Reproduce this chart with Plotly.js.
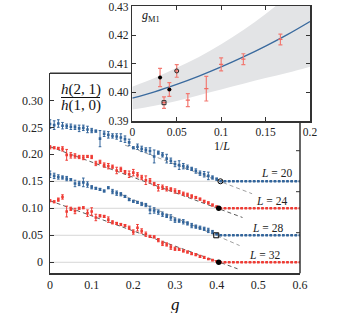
<!DOCTYPE html>
<html>
<head>
<meta charset="utf-8">
<script src="https://cdn.plot.ly/plotly-3.0.1.min.js"></script>
<style>html,body{margin:0;padding:0;background:#fff;}#chart{width:338px;height:313px;}</style>
</head>
<body>
<div id="chart"></div>
<script>
// ---------- main panel data ----------
const g = [0,0.01,0.02,0.03,0.04,0.05,0.06,0.07,0.08,0.09,
  0.10,0.11,0.12,0.13,0.14,0.15,0.16,0.17,0.18,0.19,
  0.20,0.21,0.22,0.23,0.24,0.25,0.26,0.27,0.28,0.29,
  0.30,0.31,0.32,0.33,0.34,0.35,0.36,0.37,0.38,0.39,
  0.40,0.41,0.42,0.43,0.44,0.45,0.46,0.47,0.48,0.49,
  0.50,0.51,0.52,0.53,0.54,0.55,0.56,0.57,0.58,0.59,0.60];

const h20 = [0.256,0.254,0.257,0.253,0.252,0.251,0.250,0.248,0.249,0.246,
  0.244,0.243,0.229,0.238,0.236,0.234,0.233,0.231,0.228,0.222,
  0.212,0.214,0.210,0.208,0.206,0.196,0.203,0.199,0.192,0.188,
  0.182,0.180,0.178,0.176,0.173,0.169,0.165,0.163,0.160,0.157,
  0.154,0.150,0.150,0.150,0.150,0.150,0.150,0.150,0.150,0.150,
  0.150,0.150,0.150,0.150,0.150,0.150,0.150,0.150,0.150,0.150,0.150];
const e20 = [0.008,0.008,0.007,0.006,0.004,0.005,0.004,0.006,0.005,0.006,
  0.004,0.002,0.015,0.005,0.006,0.004,0.005,0.007,0.006,0.006,
  0.002,0.005,0.005,0.004,0.006,0.012,0.003,0.004,0.008,0.005,
  0.005,0.008,0.005,0.004,0.003,0.004,0.004,0.005,0.007,0.003,
  0.002,0,0,0,0,0,0,0,0,0,0,0,0,0,0,0,0,0,0,0,0];

const h24 = [0.213,0.212,0.211,0.210,0.199,0.198,0.197,0.195,0.194,0.196,
  0.195,0.183,0.186,0.180,0.178,0.177,0.170,0.172,0.167,0.163,
  0.166,0.162,0.157,0.152,0.151,0.145,0.138,0.139,0.136,0.135,
  0.132,0.130,0.127,0.125,0.122,0.120,0.117,0.113,0.110,0.106,
  0.103,0.100,0.100,0.100,0.100,0.100,0.100,0.100,0.100,0.100,
  0.100,0.100,0.100,0.100,0.100,0.100,0.100,0.100,0.100,0.100,0.100];
const e24 = [0.003,0.002,0.002,0.004,0.010,0.005,0.004,0.003,0.004,0.002,
  0.003,0.004,0.003,0.004,0.005,0.003,0.006,0.004,0.003,0.006,
  0.006,0.004,0.004,0.008,0.004,0.003,0.006,0.004,0.004,0.003,
  0.004,0.003,0.003,0.003,0.003,0.002,0.002,0.002,0.002,0.002,
  0.001,0,0,0,0,0,0,0,0,0,0,0,0,0,0,0,0,0,0,0,0];

const h28 = [0.163,0.160,0.158,0.157,0.155,0.153,0.146,0.146,0.148,0.144,
  0.139,0.137,0.135,0.132,0.138,0.131,0.128,0.126,0.122,0.116,
  0.113,0.111,0.108,0.106,0.097,0.096,0.093,0.089,0.086,0.083,
  0.078,0.077,0.075,0.072,0.068,0.066,0.064,0.062,0.059,0.056,
  0.052,0.050,0.050,0.050,0.050,0.050,0.050,0.050,0.050,0.050,
  0.050,0.050,0.050,0.050,0.050,0.050,0.050,0.050,0.050,0.050,0.050];
const e28 = [0.006,0.005,0.004,0.003,0.004,0.002,0.006,0.004,0.008,0.005,
  0.003,0.002,0.002,0.002,0.002,0.004,0.004,0.003,0.002,0.002,
  0.002,0.002,0.003,0.003,0.007,0.005,0.004,0.004,0.003,0.005,
  0.004,0.003,0.004,0.003,0.004,0.003,0.003,0.003,0.004,0.003,
  0.001,0,0,0,0,0,0,0,0,0,0,0,0,0,0,0,0,0,0,0,0];

const h32 = [0.114,0.112,0.116,0.121,0.094,0.099,0.095,0.100,0.101,0.091,
  0.094,0.083,0.086,0.085,0.079,0.074,0.072,0.070,0.068,0.064,
  0.056,0.064,0.058,0.052,0.048,0.047,0.041,0.035,0.033,0.028,
  0.025,0.024,0.021,0.019,0.016,0.014,0.011,0.009,0.006,0.004,
  0.002,0,0,0,0,0,0,0,0,0,0,0,0,0,0,0,0,0,0,0,0];
const e32 = [0.002,0.002,0.003,0.004,0.010,0.003,0.005,0.002,0.002,0.006,
  0.007,0.006,0.002,0.002,0.005,0.003,0.002,0.002,0.002,0.003,
  0.004,0.006,0.004,0.004,0.002,0.002,0.003,0.004,0.003,0.004,
  0.003,0.002,0.002,0.002,0.002,0.002,0.002,0.002,0.001,0.001,
  0.001,0,0,0,0,0,0,0,0,0,0,0,0,0,0,0,0,0,0,0,0];

// plateau levels (grey reference lines)
const plateau = [0.15, 0.10, 0.05, 0.0];
// linear-fit dashed lines
const fit20g = [0.18, 0.485], fit20h = [0.217, 0.127];
const fit24g = [0.0, 0.462],  fit24h = [0.214, 0.083];
const fit28g = [0.17, 0.455], fit28h = [0.126, 0.031];
const fit32g = [0.0, 0.45],   fit32h = [0.114, -0.012];
// crossing points g_M1(L)
const crossG = [0.409, 0.405, 0.399, 0.405];
const crossH = [0.15, 0.10, 0.05, 0.0];
const sizeLabels = ['<i>L</i> = 20', '<i>L</i> = 24', '<i>L</i> = 28', '<i>L</i> = 32'];
const labelG = [0.543, 0.532, 0.522, 0.514];
const labelH = [0.1648, 0.1135, 0.063, 0.013];

// ---------- inset data ----------
const invL = [0.03125, 0.0357, 0.0417, 0.05, 0.0625, 0.0833, 0.1, 0.125, 0.1667];
const gM1 = [0.4052, 0.3964, 0.4010, 0.4075, 0.3973, 0.4013, 0.4098, 0.4116, 0.4185];
const gM1err = [0.0032, 0.0020, 0.0024, 0.0022, 0.0023, 0.0043, 0.0023, 0.0019, 0.0019];
const curveX = [0, 0.025, 0.05, 0.075, 0.1, 0.125, 0.15, 0.175, 0.2];
const curveY = [0.3980, 0.4002, 0.4028, 0.4057, 0.4089, 0.4124, 0.4162, 0.4203, 0.4248];
const bandUp = [0.4020, 0.4050, 0.4086, 0.4124, 0.4168, 0.4218, 0.4274, 0.4337, 0.4406];
const bandLo = [0.3940, 0.3953, 0.3970, 0.3990, 0.4010, 0.4030, 0.4050, 0.4069, 0.4090];

const BLUE = '#33659b', RED = '#ef3b34', AX = '#333333';
const FONT = '"Liberation Serif", "DejaVu Serif", serif';

function series(y, e, color) {
  return {x: g, y: y, type: 'scatter', mode: 'markers', xaxis: 'x', yaxis: 'y',
    marker: {symbol: 'square', size: 2.6, color: color, line: {width: 0}},
    error_y: {type: 'data', array: e, visible: true, color: color, thickness: 1, width: 1.3},
    hoverinfo: 'skip'};
}
function dashed(x, y, color) {
  return {x: x, y: y, type: 'scatter', mode: 'lines', xaxis: 'x', yaxis: 'y',
    line: {color: color, width: 1, dash: '4px,3px'}, hoverinfo: 'skip'};
}
const crossSymbols = ['circle-open', 'circle', 'square-open', 'circle'];
const crossSizes = [5, 5.5, 5, 5.5];

const traces = [
  dashed(fit20g, fit20h, '#a0a0a0'),
  dashed(fit24g, fit24h, '#5a5a5a'),
  dashed(fit28g, fit28h, '#a0a0a0'),
  dashed(fit32g, fit32h, '#5a5a5a'),
  series(h20, e20, BLUE),
  series(h24, e24, RED),
  series(h28, e28, BLUE),
  series(h32, e32, RED),
];
for (let i = 0; i < 4; i++) {
  const open = crossSymbols[i].indexOf('open') >= 0;
  traces.push({x: [crossG[i]], y: [crossH[i]], type: 'scatter', mode: 'markers', xaxis: 'x', yaxis: 'y',
    marker: {symbol: crossSymbols[i], size: crossSizes[i], color: '#000',
      line: {color: '#000', width: open ? 1 : 0}}, hoverinfo: 'skip'});
}
// inset
traces.push({x: curveX, y: bandLo, type: 'scatter', mode: 'lines', xaxis: 'x2', yaxis: 'y2',
  line: {width: 0, shape: 'spline', color: 'rgba(0,0,0,0)'}, hoverinfo: 'skip'});
traces.push({x: curveX, y: bandUp, type: 'scatter', mode: 'lines', xaxis: 'x2', yaxis: 'y2',
  fill: 'tonexty', fillcolor: '#e3e4e6',
  line: {width: 0, shape: 'spline', color: 'rgba(0,0,0,0)'}, hoverinfo: 'skip'});
traces.push({x: curveX, y: curveY, type: 'scatter', mode: 'lines', xaxis: 'x2', yaxis: 'y2',
  line: {width: 1.3, shape: 'spline', color: '#3a6a9e'}, hoverinfo: 'skip'});
traces.push({x: invL, y: gM1, type: 'scatter', mode: 'markers', xaxis: 'x2', yaxis: 'y2',
  marker: {symbol: 'line-ew', size: 3, color: '#f06a62', line: {color: '#f06a62', width: 1.2}},
  error_y: {type: 'data', array: gM1err, visible: true, color: '#f27a72', thickness: 1.2, width: 2},
  hoverinfo: 'skip'});
const insetIdx = [3, 2, 1, 0]; // L=20,24,28,32 -> invL index
for (let i = 0; i < 4; i++) {
  const k = insetIdx[i];
  const open = crossSymbols[i].indexOf('open') >= 0;
  traces.push({x: [invL[k]], y: [gM1[k]], type: 'scatter', mode: 'markers', xaxis: 'x2', yaxis: 'y2',
    marker: {symbol: crossSymbols[i], size: 4, color: '#000', line: {color: '#000', width: open ? 0.8 : 0}},
    hoverinfo: 'skip'});
}

const W = 338, H = 313;
const px = v => v / W, py = v => 1 - v / H;

const shapes = [];
for (let i = 0; i < plateau.length; i++) {
  shapes.push({type: 'line', xref: 'x', yref: 'y', x0: 0, x1: 0.6, y0: plateau[i], y1: plateau[i],
    line: {color: '#d6d6d6', width: 1}, layer: 'below'});
}
// partial frame of main panel (top & right, interrupted by inset)
shapes.push({type: 'line', xref: 'paper', yref: 'paper', x0: px(50), x1: px(132), y0: py(73.3), y1: py(73.3),
  line: {color: AX, width: 1.5}});
shapes.push({type: 'line', xref: 'paper', yref: 'paper', x0: px(300), x1: px(300), y0: py(121), y1: py(273.3),
  line: {color: AX, width: 1.5}});
[150.7, 191.7, 232.7].forEach(yy => shapes.push({type: 'line', xref: 'paper', yref: 'paper',
  x0: px(296), x1: px(300), y0: py(yy), y1: py(yy), line: {color: AX, width: 1}}));
// fraction bar
shapes.push({type: 'line', xref: 'paper', yref: 'paper', x0: px(61), x1: px(100), y0: py(97.5), y1: py(97.5),
  line: {color: '#111', width: 1}});

const annotations = [];
for (let i = 0; i < 4; i++) {
  annotations.push({x: labelG[i], y: labelH[i], xref: 'x', yref: 'y', text: sizeLabels[i], showarrow: false,
    xanchor: 'center', yanchor: 'middle', font: {family: FONT, size: 11.5, color: '#222'}});
}
annotations.push({x: px(80.5), y: py(89), xref: 'paper', yref: 'paper', text: '<i>h</i>(2, 1)', showarrow: false,
  xanchor: 'center', yanchor: 'middle', font: {family: FONT, size: 15, color: '#111'}});
annotations.push({x: px(80.5), y: py(106), xref: 'paper', yref: 'paper', text: '<i>h</i>(1, 0)', showarrow: false,
  xanchor: 'center', yanchor: 'middle', font: {family: FONT, size: 15, color: '#111'}});
annotations.push({x: px(175), y: py(304), xref: 'paper', yref: 'paper', text: '<i>g</i>', showarrow: false,
  xanchor: 'center', yanchor: 'middle', font: {family: FONT, size: 17, color: '#111'}});
annotations.push({x: px(221.5), y: py(146), xref: 'paper', yref: 'paper', text: '1/<i>L</i>', showarrow: false,
  xanchor: 'center', yanchor: 'middle', font: {family: FONT, size: 12, color: '#111'}});
annotations.push({x: px(151), y: py(16), xref: 'paper', yref: 'paper', text: '<i>g</i><sub>M1</sub>', showarrow: false,
  xanchor: 'center', yanchor: 'middle', font: {family: FONT, size: 12, color: '#111'}});

const tickFont = {family: FONT, size: 12, color: '#222'};
const insetTickFont = {family: FONT, size: 11.5, color: '#222'};
const layout = {
  width: W, height: H,
  margin: {l: 0, r: 0, t: 0, b: 0},
  paper_bgcolor: '#fff', plot_bgcolor: 'rgba(0,0,0,0)',
  font: {family: FONT},
  showlegend: false,
  xaxis: {domain: [px(50), px(300)], range: [0, 0.6], tickvals: [0,0.1,0.2,0.3,0.4,0.5,0.6],
    ticktext: ['0','0.1','0.2','0.3','0.4','0.5','0.6'], ticks: '', showgrid: false, zeroline: false,
    showline: true, linecolor: AX, linewidth: 1.5, tickfont: tickFont, anchor: 'y', ticklabelstandoff: 0},
  yaxis: {domain: [py(273.3), py(73.3)], range: [-0.0204, 0.35],
    tickvals: [0,0.05,0.10,0.15,0.20,0.25,0.30], ticktext: ['0','0.05','0.10','0.15','0.20','0.25','0.30'],
    ticks: 'inside', ticklen: 4, tickcolor: AX, showgrid: false, zeroline: false,
    showline: true, linecolor: AX, linewidth: 1.5, tickfont: tickFont, anchor: 'x', ticklabelstandoff: 3},
  xaxis2: {domain: [px(132.3), px(310)], range: [0, 0.2], tickvals: [0,0.05,0.1,0.15,0.2],
    ticktext: ['0','0.05','0.1','0.15','0.2'], ticks: 'inside', ticklen: 4, tickcolor: AX,
    showgrid: false, zeroline: false, showline: true, mirror: 'ticks', linecolor: AX, linewidth: 1.5,
    tickfont: insetTickFont, anchor: 'y2'},
  yaxis2: {domain: [py(121), py(6)], range: [0.39, 0.4302], tickvals: [0.39,0.40,0.41,0.42,0.43],
    ticktext: ['0.39','0.40','0.41','0.42','0.43'], ticks: 'inside', ticklen: 4, tickcolor: AX,
    showgrid: false, zeroline: false, showline: true, mirror: 'ticks', linecolor: AX, linewidth: 1.5,
    tickfont: insetTickFont, anchor: 'x2'},
  shapes: shapes,
  annotations: annotations
};

Plotly.newPlot('chart', traces, layout, {staticPlot: true, displayModeBar: false});
</script>
</body>
</html>
